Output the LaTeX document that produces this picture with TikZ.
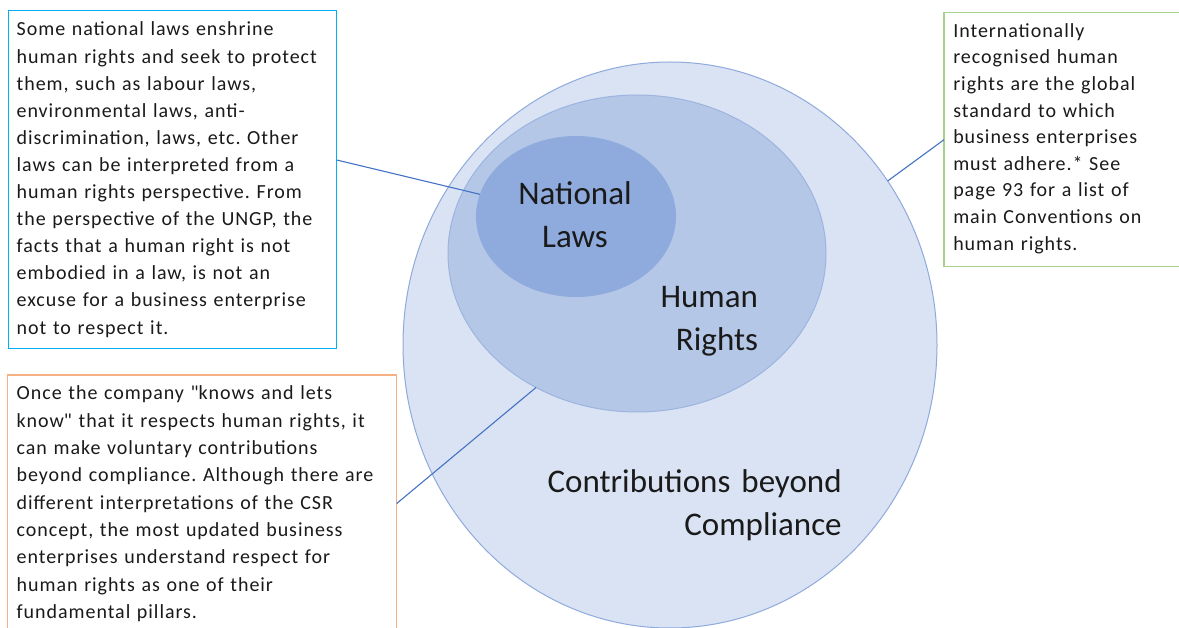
\documentclass[tikz,border=0pt]{standalone}
\usepackage{fontspec}
\setmainfont{Carlito}
\newfontfamily\boxfont{Carlito}[LetterSpace=4.8]
\usetikzlibrary{shapes.geometric}
\frenchspacing
\definecolor{outerfill}{HTML}{DAE3F3}
\definecolor{outerline}{HTML}{8FAADC}
\definecolor{hrfill}{HTML}{B4C7E7}
\definecolor{hrline}{HTML}{9DB4E0}
\definecolor{nlfill}{HTML}{8FAADC}
\definecolor{conn}{HTML}{4472C4}
\definecolor{cyanbox}{HTML}{00B0F0}
\definecolor{orangebox}{HTML}{F4B183}
\definecolor{greenbox}{HTML}{A9D18E}
\definecolor{ink}{HTML}{1A1A1A}
\begin{document}
\begin{tikzpicture}[x=1pt,y=-1pt,
  ell/.style={ellipse, inner sep=0pt, outer sep=0pt},
  textbox/.style={rectangle, draw=#1, line width=1.3pt, inner sep=0pt, outer sep=0pt, fill=white},
  boxtext/.style={anchor=base west, inner sep=0pt, outer sep=0pt, align=left, text=ink},
  biglabel/.style={inner sep=0pt, outer sep=0pt, font=\fontsize{33}{42.5}\selectfont, text=ink},
  connector/.style={draw=conn, line width=1.1pt}]
\clip (0,0) rectangle (1179,628);
\fill[white] (0,0) rectangle (1179,628);
% ellipses
\node[ell, fill=outerfill, draw=outerline, line width=1pt, minimum width=534pt, minimum height=566pt] (outer) at (670,345) {};
\node[ell, fill=hrfill, draw=hrline, line width=1pt, minimum width=378pt, minimum height=317pt] (hr) at (637,253.5) {};
\node[ell, fill=nlfill, minimum width=200pt, minimum height=161pt] (nl) at (576,216.5) {};
% boxes
\node[textbox=cyanbox, minimum width=328.4pt, minimum height=337.6pt] (lbox) at (172.5,179.5) {};
\node[textbox=orangebox, minimum width=389.4pt, minimum height=265pt] (obox) at (202,507.5) {};
\node[textbox=greenbox, minimum width=246pt, minimum height=254pt] (gbox) at (1067,139.7) {};
% connectors
\draw[connector] ([yshift=19.5pt]lbox.east) -- (nl.167);
\draw[connector] ([yshift=4pt]obox.east) -- (hr.233);
\draw[connector] (gbox.west) -- (outer.37);
% box texts
\node[boxtext, text width=320pt, font=\boxfont\fontsize{20}{27.1}\selectfont] (ltext) at (16.7,36) {Some national laws enshrine\\human rights and seek to protect\\them, such as labour laws,\\environmental laws, anti-\\discrimination, laws, etc. Other\\laws can be interpreted from a\\human rights perspective. From\\the perspective of the UNGP, the\\facts that a human right is not\\embodied in a law, is not an\\excuse for a business enterprise\\not to respect it.};
\node[boxtext, text width=378pt, font=\boxfont\fontsize{20}{27.3}\selectfont] (otext) at (16.7,400) {Once the company \textquotedbl knows and lets\\know\textquotedbl{} that it respects human rights, it\\can make voluntary contributions\\beyond compliance. Although there are\\different interpretations of the CSR\\concept, the most updated business\\enterprises understand respect for\\human rights as one of their\\fundamental pillars.};
\node[boxtext, text width=225pt, font=\boxfont\fontsize{20}{26.6}\selectfont] (gtext) at (953.3,37.3) {Internationally\\recognised human\\rights are the global\\standard to which\\business enterprises\\must adhere.* See\\page 93 for a list of\\main Conventions on\\human rights.};
% labels
\node[biglabel, anchor=base, text width=200pt, align=center] (nllabel) at (575,205) {National\\Laws};
\node[biglabel, anchor=base east, text width=200pt, align=right] (hrlabel) at (758,307.7) {Human\\Rights};
\node[biglabel, anchor=base east, text width=340pt, align=right] (cblabel) at (841.7,493) {Contributions beyond\\Compliance};
\end{tikzpicture}
\end{document}
